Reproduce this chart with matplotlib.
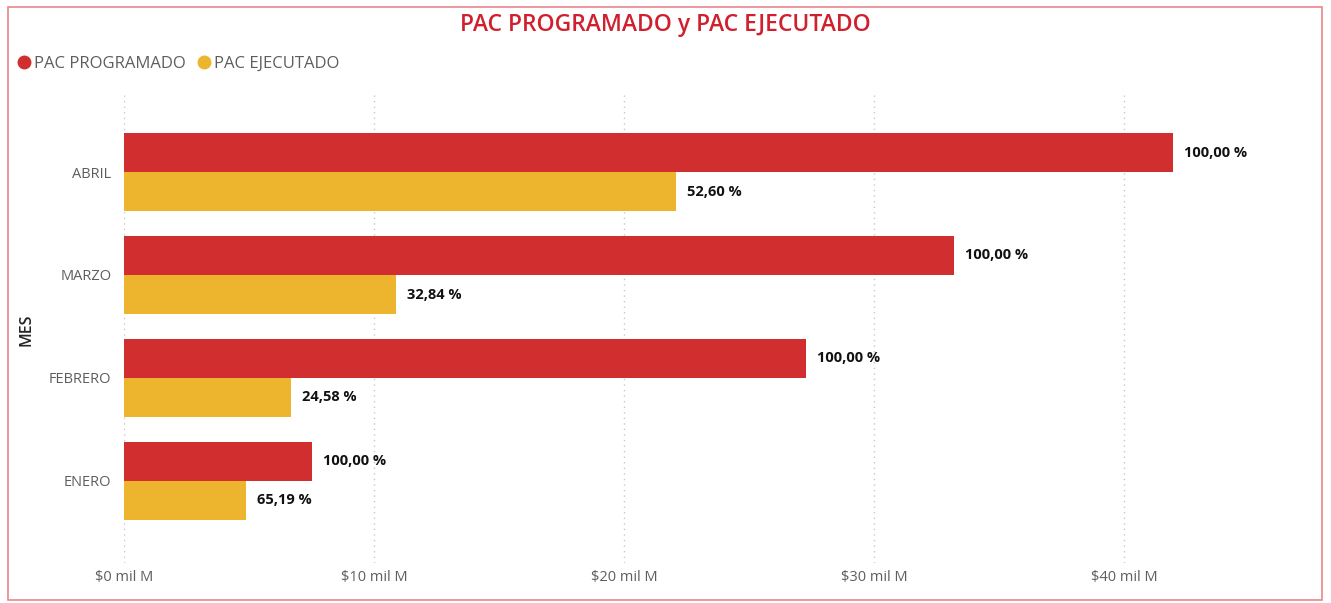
import numpy as np
import matplotlib.pyplot as plt
from matplotlib.patches import Rectangle
from matplotlib.lines import Line2D

plt.rcParams['font.family'] = ['Open Sans', 'DejaVu Sans']

meses = ['ENERO', 'FEBRERO', 'MARZO', 'ABRIL']
programado = [7.52, 27.28, 33.20, 41.96]   # mil M
ejecutado = [4.88, 6.68, 10.88, 22.08]
pct_prog = ['100,00 %', '100,00 %', '100,00 %', '100,00 %']
pct_ejec = ['65,19 %', '24,58 %', '32,84 %', '52,60 %']
xticks = [0, 10, 20, 30, 40]
xtick_labels = ['$0 mil M', '$10 mil M', '$20 mil M', '$30 mil M', '$40 mil M']

c_prog = '#D12F2F'
c_ejec = '#EDB52E'
gray = '#605E5C'

W, H = 1331, 603
fig = plt.figure(figsize=(W / 100, H / 100), dpi=100)
ax = fig.add_axes([124 / W, (H - 563) / H, 1150 / W, (563 - 95) / H])

y = np.arange(len(meses))
h = 0.38
ax.barh(y + h / 2, programado, height=h, color=c_prog, zorder=3)
ax.barh(y - h / 2, ejecutado, height=h, color=c_ejec, zorder=3)

for i in range(len(meses)):
    ax.text(programado[i] + 0.45, y[i] + h / 2, pct_prog[i], va='center', ha='left',
            fontsize=10.5, fontweight='bold', color='#111111')
    ax.text(ejecutado[i] + 0.45, y[i] - h / 2, pct_ejec[i], va='center', ha='left',
            fontsize=10.5, fontweight='bold', color='#111111')

ax.set_xlim(0, 46)
ax.set_ylim(-0.8, 3.75)
ax.set_xticks(xticks)
ax.set_xticklabels(xtick_labels, fontsize=10.5, color=gray)
ax.set_yticks(y)
ax.set_yticklabels(meses, fontsize=10.5, color=gray)
ax.tick_params(axis='x', length=0, pad=5)
ax.tick_params(axis='y', length=0, pad=9)
ax.grid(axis='x', linestyle=(0, (1, 3)), color='#C8C8C8', linewidth=1, zorder=0)
for s in ax.spines.values():
    s.set_visible(False)

fig.text(27 / W, 1 - 330 / H, 'MES', rotation=90, ha='center', va='center',
         fontsize=11.5, color='#252423', fontweight='semibold')

fig.text(665 / W, 1 - 25 / H, 'PAC PROGRAMADO y PAC EJECUTADO', ha='center', va='center',
         fontsize=16.5, color='#D0202E', fontweight='semibold')

handles = [Line2D([], [], marker='o', linestyle='', color=c_prog, markersize=9),
           Line2D([], [], marker='o', linestyle='', color=c_ejec, markersize=9)]
fig.legend(handles, ['PAC PROGRAMADO', 'PAC EJECUTADO'], loc='center left',
           bbox_to_anchor=(-1 / W, 1 - 64 / H), ncol=2, frameon=False,
           fontsize=12, labelcolor=gray, handletextpad=0.0, columnspacing=0.5,
           handlelength=1.2)

fig.patches.append(Rectangle((8 / W, 3 / H), 1314 / W, 593 / H, transform=fig.transFigure,
                             fill=False, edgecolor='#E8878C', linewidth=1.2))

fig.savefig('out.png', dpi=100)
